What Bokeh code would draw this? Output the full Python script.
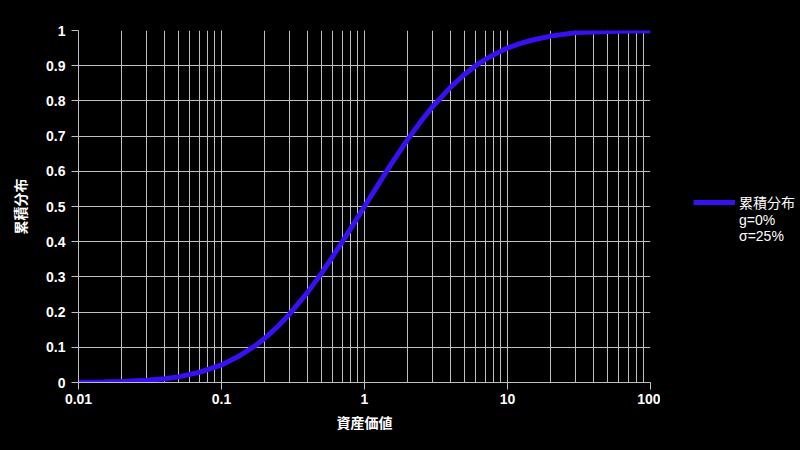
from bokeh.plotting import figure
from bokeh.layouts import row
from bokeh.models import Range1d, FixedTicker, CustomJSTickFormatter, Legend, LegendItem
from bokeh.embed import file_html
from bokeh.resources import INLINE

# data
asset_value = [0.01, 0.015, 0.02, 0.03, 0.04, 0.05, 0.07, 0.1, 0.13, 0.17, 0.2, 0.25, 0.3, 0.4,
               0.5, 0.6, 0.7, 0.8, 1.0, 1.25, 1.5, 2.0, 2.5, 3.0, 4.0, 5.0, 6.0, 7.0, 8.0, 10.0,
               12.0, 15.0, 20.0, 30.0, 40.0, 50.0, 70.0, 100.0]
cum_dist = [0.0005, 0.0013, 0.0026, 0.0061, 0.0108, 0.016, 0.029, 0.05, 0.073, 0.103, 0.125, 0.161,
            0.195, 0.256, 0.31, 0.358, 0.40, 0.437, 0.5, 0.563, 0.614, 0.69, 0.744, 0.784, 0.839,
            0.875, 0.90, 0.918, 0.931, 0.95, 0.962, 0.973, 0.984, 0.994, 0.9958, 0.9974, 0.9987, 0.9995]
y_ticks = [0, 0.1, 0.2, 0.3, 0.4, 0.5, 0.6, 0.7, 0.8, 0.9, 1.0]
y_tick_labels = ["0", "0.1", "0.2", "0.3", "0.4", "0.5", "0.6", "0.7", "0.8", "0.9", "1"]
x_title = "資産価値"
y_title = "累積分布"
legend_lines = ["累積分布", "g=0%", "σ=25%"]

FONT = "'Liberation Sans', 'Noto Sans CJK JP'"
GRID = "#c0c0c0"
LINE = "#3a10f2"
NAN2 = [float("nan"), float("nan")]  # legend-only helpers draw nothing in the plot

p = figure(width=660, height=450, x_axis_type="log",
           x_range=Range1d(0.01, 100), y_range=Range1d(0, 1),
           output_backend="svg", toolbar_location=None,
           min_border_left=78, min_border_right=10, min_border_top=30, min_border_bottom=68,
           background_fill_color="black", border_fill_color="black", outline_line_color=None)

r = p.line(asset_value, cum_dist, line_color=LINE, line_width=5)

# axes
p.yaxis.ticker = FixedTicker(ticks=y_ticks)
p.yaxis.major_label_overrides = {t: l for t, l in zip(y_ticks, y_tick_labels)}
p.xaxis.formatter = CustomJSTickFormatter(code="return String(Number(tick.toPrecision(1)));")

for ax in (p.xaxis[0], p.yaxis[0]):
    ax.axis_line_color = GRID
    ax.major_tick_line_color = GRID
    ax.major_tick_in = 0
    ax.major_tick_out = 7
    ax.minor_tick_in = 0
    ax.minor_tick_out = 0
    ax.major_label_text_color = "white"
    ax.major_label_text_font = "Liberation Sans"
    ax.major_label_text_font_size = "14px"
    ax.major_label_text_font_style = "bold"
    ax.axis_label_text_color = "white"
    ax.axis_label_text_font = "Noto Sans CJK JP"
    ax.axis_label_text_font_size = "14px"
    ax.axis_label_text_font_style = "bold"

p.xaxis.axis_label = x_title
p.yaxis.axis_label = y_title
p.xaxis.major_label_standoff = 4
p.yaxis.major_label_standoff = 6
p.xaxis.axis_label_standoff = 5
p.yaxis.axis_label_standoff = 13

p.xgrid.grid_line_color = GRID
p.xgrid.minor_grid_line_color = GRID
p.ygrid.grid_line_color = GRID

# legend panel on the right
q = figure(width=140, height=450, output_backend="svg", toolbar_location=None,
           x_range=Range1d(0, 1), y_range=Range1d(0, 1),
           min_border_left=0, min_border_right=0, min_border_top=0, min_border_bottom=0,
           background_fill_color="black", border_fill_color="black", outline_line_color=None)
q.axis.visible = False
q.grid.visible = False
lr = q.line(NAN2, NAN2, line_color=LINE, line_width=5)
lg = q.line(NAN2, NAN2, line_alpha=0)
ls = q.line(NAN2, NAN2, line_alpha=0)

legend = Legend(items=[LegendItem(label=legend_lines[0], renderers=[lr]),
                       LegendItem(label=legend_lines[1], renderers=[lg]),
                       LegendItem(label=legend_lines[2], renderers=[ls])],
                location=(33, 138), padding=0, margin=0, spacing=0,
                glyph_width=42, glyph_height=16, label_height=16, label_standoff=4,
                background_fill_alpha=0, border_line_color=None,
                label_text_color="white", label_text_font=FONT, label_text_font_size="14px")
q.add_layout(legend)

layout = row(p, q, spacing=0)

template = """{% block postamble %}<style>html, body { background: #000; margin: 0; }</style>{% endblock %}"""
open("out.html", "w").write(file_html(layout, INLINE, template=template))
